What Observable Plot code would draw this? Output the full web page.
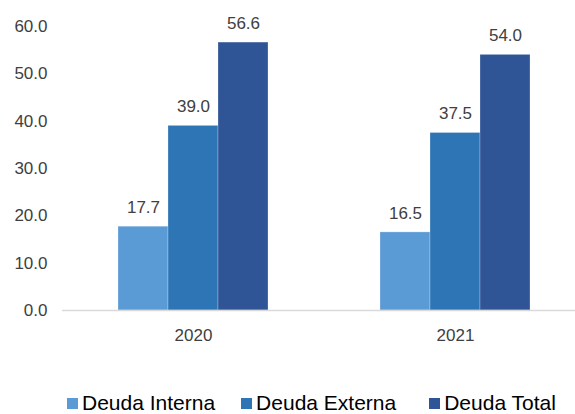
<!DOCTYPE html>
<html>
<head>
<meta charset="utf-8">
<script src="https://cdn.jsdelivr.net/npm/d3@7"></script>
<script src="https://cdn.jsdelivr.net/npm/@observablehq/plot@0.6"></script>
<style>
  html, body { margin: 0; padding: 0; background: #fff; }
  body { width: 575px; height: 414px; overflow: hidden; font-family: "Liberation Sans", Arial, sans-serif; }
  #legend { display: flex; align-items: center; padding-left: 67px; margin-top: 16px; font-size: 21px; color: #000; line-height: 24px; white-space: nowrap; }
  #legend .item { display: flex; align-items: center; }
  #legend .sw { width: 11px; height: 11px; margin-right: 4px; }
</style>
</head>
<body>
<div id="chart"></div>
<div id="legend"></div>
<script>
const years = ["2020", "2021"];
const series = ["Deuda Interna", "Deuda Externa", "Deuda Total"];
const colors = ["#5b9bd5", "#2e75b6", "#2f5597"];
const interna = [17.7, 16.5];
const externa = [39.0, 37.5];
const total = [56.6, 54.0];
const yTicks = [0, 10, 20, 30, 40, 50, 60];

const valuesBySeries = [interna, externa, total];
const data = [];
years.forEach((yr, i) => {
  series.forEach((s, j) => data.push({year: yr, series: s, value: valuesBySeries[j][i]}));
});

const W = 575, H = 375, ML = 117, MR = 44, MT = 26, MB = 65;
const axisStart = 62;

const chart = Plot.plot({
  width: W,
  height: H,
  marginLeft: ML,
  marginRight: MR,
  marginTop: MT,
  marginBottom: MB,
  style: {fontFamily: "'Liberation Sans', Arial, sans-serif", fontSize: "17px", color: "#404040", background: "#fff"},
  fx: {domain: years, paddingInner: 0.42, paddingOuter: 0, label: null},
  x: {domain: series, padding: 0, axis: null},
  y: {domain: [0, 60], ticks: yTicks, label: null},
  color: {domain: series, range: colors},
  marks: [
    Plot.axisY({ticks: yTicks, tickSize: 0, tickPadding: ML - 47, tickFormat: d => d.toFixed(1), fontSize: 17, label: null}),
    Plot.axisFx({anchor: "bottom", tickSize: 0, tickPadding: 18, fontSize: 17, label: null}),
    Plot.barY(data, {fx: "year", x: "series", y: "value", fill: "series", stroke: "#ffffff", strokeOpacity: 0.25, strokeWidth: 1}),
    Plot.text(data, {fx: "year", x: "series", y: "value", text: d => d.value.toFixed(1), dy: -19, fontSize: 17, fill: "#404040"})
  ]
});

// baseline across the full plot width using the chart's y scale
const y0 = chart.scale("y").apply(0);
d3.select(chart).append("line")
  .attr("x1", axisStart).attr("x2", W)
  .attr("y1", y0 + 0.5).attr("y2", y0 + 0.5)
  .attr("stroke", "#d9d9d9").attr("stroke-width", 1.5);

document.getElementById("chart").appendChild(chart);

const legend = document.getElementById("legend");
const gaps = [26, 33, 0];
series.forEach((s, i) => {
  const item = document.createElement("div");
  item.className = "item";
  item.style.marginRight = gaps[i] + "px";
  const sw = document.createElement("span");
  sw.className = "sw";
  sw.style.background = colors[i];
  const t = document.createElement("span");
  t.textContent = s;
  item.appendChild(sw);
  item.appendChild(t);
  legend.appendChild(item);
});
</script>
</body>
</html>
